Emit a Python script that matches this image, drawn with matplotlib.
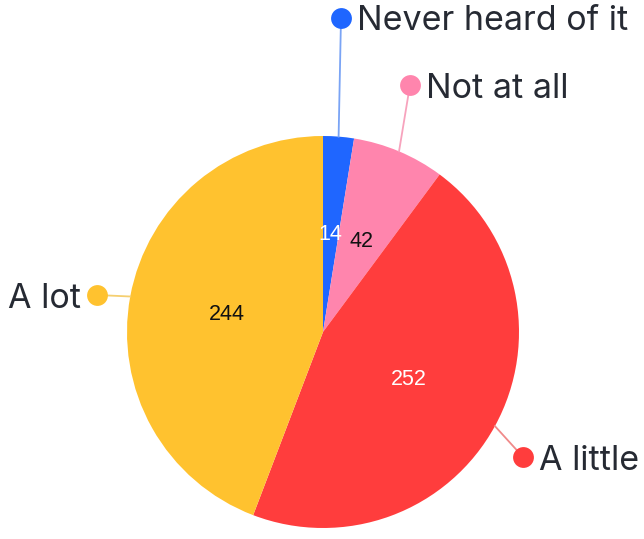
import matplotlib
matplotlib.use("Agg")
import matplotlib.pyplot as plt
import numpy as np

# ── Data ─────────────────────────────────────────────────────────────────────
categories = ["Never heard of it", "Not at all", "A little", "A lot"]
counts = [14, 42, 252, 244]

COLORS = ["#1f66ff", "#ff85ad", "#ff3d3d", "#ffc22f"]
LINE_COLORS = ["#7aa4f5", "#f7a3bd", "#f08a8a", "#f5cf70"]
VALUE_TEXT = ["white", "#111111", "white", "#111111"]
TEXT_COLOR = "#262a33"

W, H = 644, 539
CX, CY, R = 323, 332, 196          # pie centre/radius in pixel coords (y down)

# outer label dot position (pixels, y down) and text alignment
DOTS = {
    "Never heard of it": ((341, 18), "left"),
    "Not at all":        ((410, 85), "left"),
    "A little":          ((523, 457), "left"),
    "A lot":             ((97, 295), "right"),
}


def Y(y):
    return H - y


fig = plt.figure(figsize=(W / 100, H / 100), dpi=100)
ax = fig.add_axes([0, 0, 1, 1])

wedges, _, autotexts = ax.pie(
    counts, center=(CX, Y(CY)), radius=R, startangle=90, counterclock=False,
    colors=COLORS, wedgeprops=dict(linewidth=0),
    autopct=lambda p: f"{p * sum(counts) / 100:.0f}", pctdistance=0.5,
    textprops=dict(fontsize=15.5, family="Liberation Sans", weight="medium"),
    frame=True,
)
ax.set_xlim(0, W)
ax.set_ylim(0, H)
ax.set_aspect("equal")
ax.axis("off")
for t, c in zip(autotexts, VALUE_TEXT):
    t.set_color(c)

for w, name, lc, col in zip(wedges, categories, LINE_COLORS, COLORS):
    mid = np.deg2rad((w.theta1 + w.theta2) / 2)
    ex, ey = CX + R * np.cos(mid), Y(CY) + R * np.sin(mid)
    (dx, dy), ha = DOTS[name]
    ax.plot([ex, dx], [ey, Y(dy)], color=lc, lw=1.3, zorder=3)
    ax.plot(dx, Y(dy), "o", ms=15, color=col, mec="none", zorder=4)
    off = 16 if ha == "left" else -16
    ax.text(dx + off, Y(dy), name, ha=ha, va="center_baseline", fontsize=24.5,
            color=TEXT_COLOR, family="Inter")

fig.savefig("out.png", dpi=100)
